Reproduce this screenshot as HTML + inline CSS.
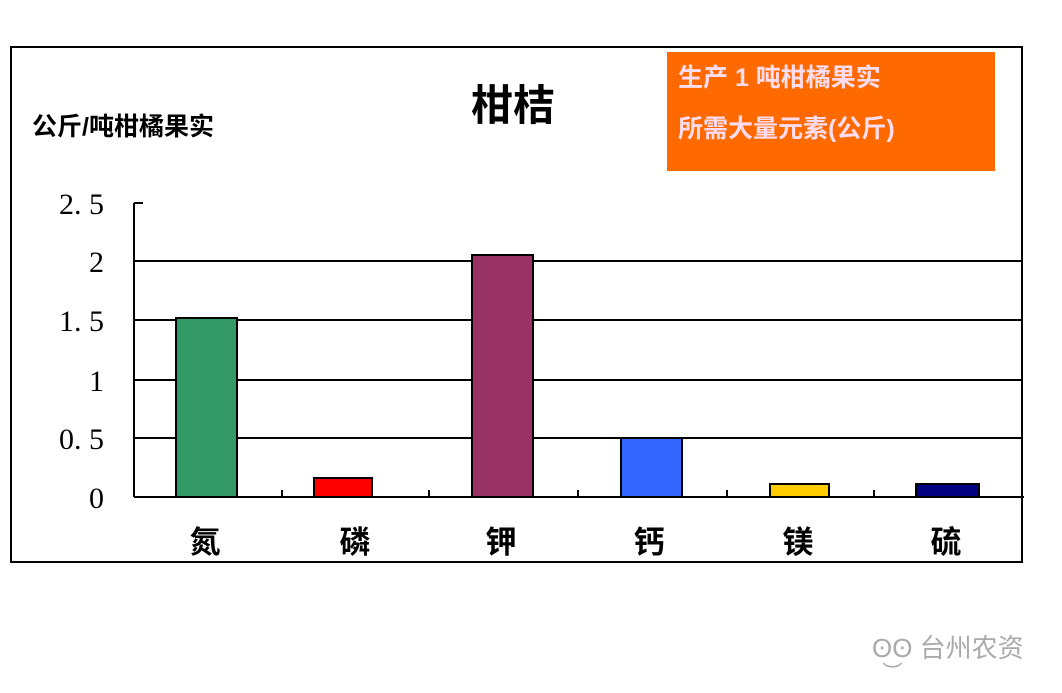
<!DOCTYPE html>
<html><head><meta charset="utf-8"><style>
body{margin:0;width:1062px;height:693px;background:#fff;overflow:hidden;position:relative;font-family:"Liberation Sans","Noto Sans CJK SC",sans-serif}
.a{position:absolute;white-space:nowrap}
</style></head><body>
<svg class="a" style="left:0;top:0" width="1062" height="693">
<rect x="11" y="47" width="1011" height="515" fill="#fff" stroke="#000" stroke-width="2"/>
<g stroke="#000" stroke-width="2">
<line x1="134" y1="261" x2="1022" y2="261"/>
<line x1="134" y1="320" x2="1022" y2="320"/>
<line x1="134" y1="380" x2="1022" y2="380"/>
<line x1="134" y1="438" x2="1022" y2="438"/>
<line x1="134" y1="497" x2="1024" y2="497"/>
<line x1="134" y1="203" x2="134" y2="497"/>
<line x1="134" y1="203" x2="143" y2="203"/>
<line x1="282" y1="490" x2="282" y2="497"/>
<line x1="429" y1="490" x2="429" y2="497"/>
<line x1="578" y1="490" x2="578" y2="497"/>
<line x1="727" y1="490" x2="727" y2="497"/>
<line x1="874" y1="490" x2="874" y2="497"/>
<line x1="1022" y1="490" x2="1022" y2="497"/>
</g>
<g stroke="#000" stroke-width="2">
<rect x="176" y="318" width="61" height="179" fill="#339966"/>
<rect x="314" y="478" width="58" height="19" fill="#ff0000"/>
<rect x="472" y="255" width="61" height="242" fill="#993366"/>
<rect x="621" y="438" width="61" height="59" fill="#3366ff"/>
<rect x="770" y="484" width="59" height="13" fill="#ffcc00"/>
<rect x="916" y="484" width="63" height="13" fill="#000080"/>
</g>
<rect x="667" y="52" width="328" height="119" fill="#ff6a00"/>
<g font-family="Liberation Serif,serif" font-size="30" text-anchor="end" fill="#000">
<text x="104" y="214">2. 5</text><text x="104" y="272">2</text><text x="104" y="331">1. 5</text>
<text x="104" y="391">1</text><text x="104" y="449">0. 5</text><text x="104" y="508">0</text>
</g>
<g font-family="Liberation Sans,Noto Sans CJK SC,sans-serif" font-size="31" font-weight="bold" text-anchor="middle">
<text x="205" y="553">氮</text><text x="355" y="553">磷</text><text x="501" y="553">钾</text>
<text x="649" y="553">钙</text><text x="798" y="553">镁</text><text x="946" y="553">硫</text>
</g>
</svg>
<div class="a" style="left:471px;top:72px;font-size:42px;font-weight:bold">柑桔</div>
<div class="a" style="left:32px;top:107px;font-size:25px;font-weight:bold">公斤/吨柑橘果实</div>
<div class="a" style="left:678px;top:58px;font-size:25px;font-weight:bold;color:#fde">生产 1 吨柑橘果实</div>
<div class="a" style="left:678px;top:109px;font-size:25px;font-weight:bold;color:#fde">所需大量元素(公斤)</div>
<div class="a" style="left:872px;top:628px;font-size:26px;color:#aaa">ʘ͜ʘ 台州农资</div>
</body></html>
